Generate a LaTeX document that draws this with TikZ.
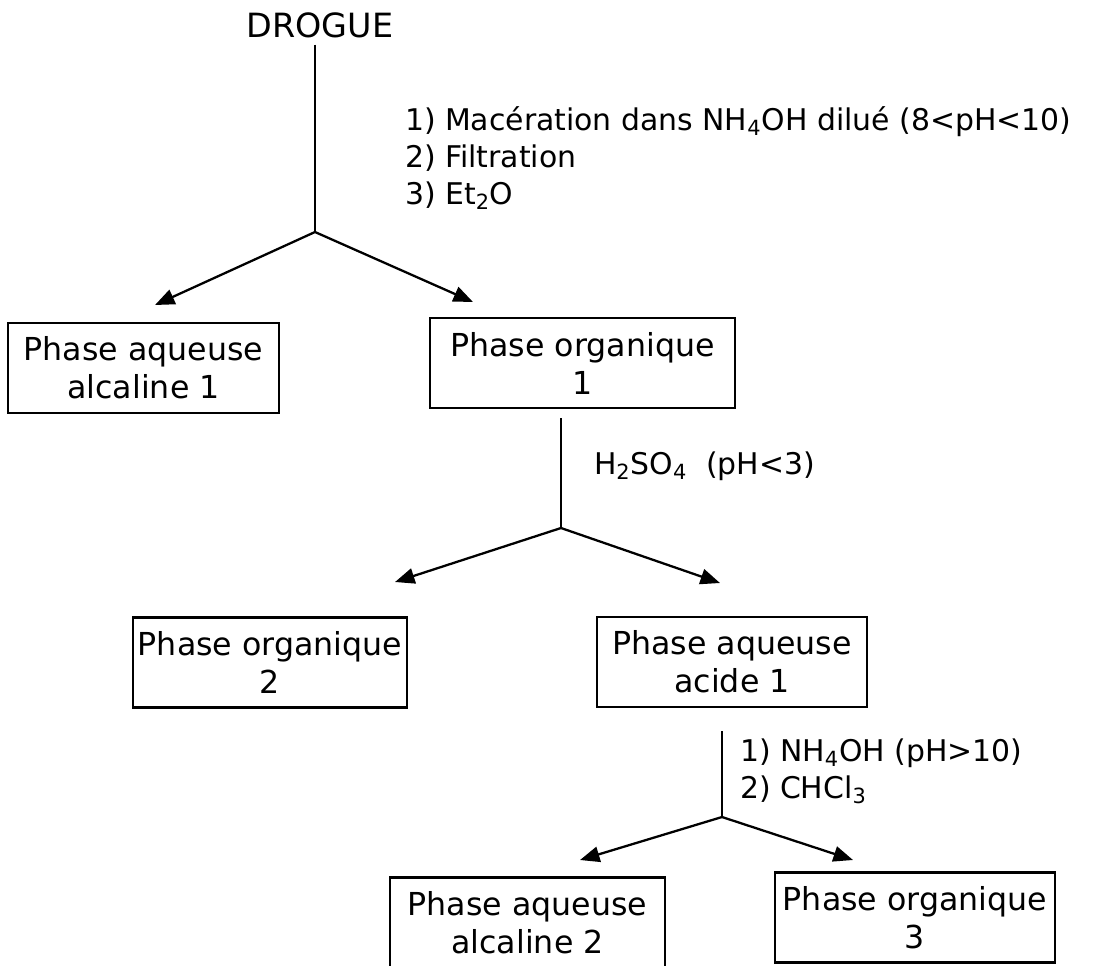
\documentclass[tikz,border=0pt]{standalone}
\usepackage{fontspec}
\setmainfont{DejaVu Sans}
\usetikzlibrary{arrows.meta}
\usetikzlibrary{positioning}

\begin{document}
\begin{tikzpicture}[line width=1.3pt,
        phase/.style={draw, align=center, inner sep=0pt, minimum height=1.8cm,
            font=\fontsize{18}{21.6}\selectfont},
        etape/.style={anchor=west, align=left, font=\fontsize{17}{21}\selectfont},
        fleche/.style={arrows = -{Triangle[length=3.9mm, width=3.1mm]}}]

            % \draw [help lines] (0,0) grid (22,-19);
            \clip (0,0) rectangle (21.94,-19.3);

            \path   (6.4,-0.5) node (drogue) [font=\fontsize{19}{22}\selectfont] {DROGUE}

                    (2.87,-7.36) node (aq1) [phase,minimum width=5.42cm] {Phase aqueuse\\alcaline 1}
                    (11.65,-7.26) node (org1) [phase,minimum width=6.1cm] {Phase organique\\1}

                    (5.4,-13.25) node (org2) [phase,minimum width=5.48cm] {Phase organique\\2}
                    (14.64,-13.24) node (ac1) [phase,minimum width=5.4cm] {Phase aqueuse\\acide 1}

                    (10.55,-18.45) node (aq2) [phase,minimum width=5.5cm] {Phase aqueuse\\alcaline 2}
                    (18.3,-18.35) node (org3) [phase,minimum width=5.6cm] {Phase organique\\3};

            % points where the flow splits, and arrow ends
            \coordinate (b1) at (6.3,-4.64);
            \coordinate (t1) at (3.1,-6.1);
            \coordinate (t2) at (9.46,-6.04);

            \coordinate (b2) at (11.22,-10.56);
            \coordinate (t3) at (7.9,-11.64);
            \coordinate (t4) at (14.4,-11.66);

            \coordinate (b3) at (14.44,-16.34);
            \coordinate (t5) at (11.6,-17.2);
            \coordinate (t6) at (17.06,-17.2);

            \draw (drogue.south -| b1) -- (node cs:name=b1);
            \draw[fleche] (node cs: name=b1) -- (node cs:name=t1);
            \draw[fleche] (node cs: name=b1) -- (node cs:name=t2);

            \draw[shorten <=0.18cm] (org1.south -| b2) -- (node cs:name=b2);
            \draw[fleche] (node cs: name=b2) -- (node cs:name=t3);
            \draw[fleche] (node cs: name=b2) -- (node cs:name=t4);

            \draw[shorten <=0.46cm] (ac1.south -| b3) -- (node cs:name=b3);
            \draw[fleche] (node cs: name=b3) -- (node cs:name=t5);
            \draw[fleche] (node cs: name=b3) -- (node cs:name=t6);

            \node (op1) [etape] at (7.96,-3.16)
            {1) Macération dans NH\textsubscript{4}OH dilué (8<pH<10)\\2) Filtration\\3) Et\textsubscript{2}O};

            \node (op2) [etape] at (11.74,-9.32)
            {H\textsubscript{2}SO\textsubscript{4}~~(pH<3)};

            \node (op3) [etape] at (14.66,-15.42)
            {1) NH\textsubscript{4}OH (pH>10)\\2) CHCl\textsubscript{3}};
\end{tikzpicture}
\end{document}
